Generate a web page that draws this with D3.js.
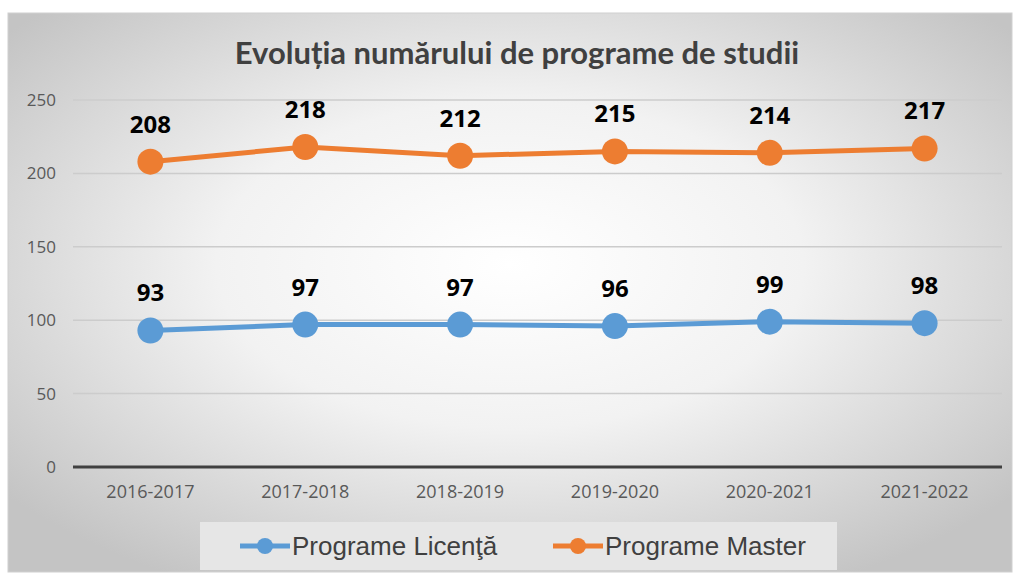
<!DOCTYPE html>
<html><head><meta charset="utf-8">
<script src="https://cdn.jsdelivr.net/npm/d3@7"></script>
<style>html,body{margin:0;padding:0;background:#fff;}svg{display:block;}</style>
</head><body>
<script>
const categories = ["2016-2017","2017-2018","2018-2019","2019-2020","2020-2021","2021-2022"];
const licenta = [93,97,97,96,99,98];
const master = [208,218,212,215,214,217];
const yTicks = [0,50,100,150,200,250];
const seriesNames = ["Programe Licenţă","Programe Master"];
const title = "Evoluția numărului de programe de studii";

const W=1016,H=574;
const svg=d3.select("body").append("svg").attr("width",W).attr("height",H);
const defs=svg.append("defs");
const rg=defs.append("radialGradient").attr("id","bg").attr("cx","50%").attr("cy","45%").attr("r","65%");
rg.append("stop").attr("offset","0%").attr("stop-color","#ffffff");
rg.append("stop").attr("offset","45%").attr("stop-color","#f2f2f2");
rg.append("stop").attr("offset","100%").attr("stop-color","#c4c4c4");
svg.append("rect").attr("x",8).attr("y",13).attr("width",1004).attr("height",559).attr("fill","url(#bg)").attr("stroke","#d0d0d0").attr("stroke-width",1);

const x=d3.scaleBand().domain(categories).range([73,1002]);
const y=d3.scaleLinear().domain([0,250]).range([467,100]);

svg.append("text").attr("x",517).attr("y",64).attr("text-anchor","middle")
  .attr("font-family","Lato, 'Open Sans', sans-serif").attr("font-weight","bold").attr("font-size",31)
  .attr("fill","#404040").text(title);

const grid=svg.append("g");
grid.selectAll("line").data(yTicks.filter(d=>d>0)).join("line")
  .attr("x1",73).attr("x2",1002).attr("y1",d=>y(d)).attr("y2",d=>y(d))
  .attr("stroke","#cccccc").attr("stroke-width",1.5);
svg.append("line").attr("x1",73).attr("x2",1002).attr("y1",y(0)).attr("y2",y(0)).attr("stroke","#404040").attr("stroke-width",3);

const yAxis=svg.append("g").attr("transform","translate(56,0)")
  .call(d3.axisLeft(y).tickValues(yTicks).tickSize(0).tickPadding(0));
yAxis.select(".domain").remove();
yAxis.selectAll("text").attr("font-family","'Open Sans', sans-serif").attr("font-size",17).attr("fill","#595959");

const xAxis=svg.append("g").attr("transform",`translate(0,${y(0)})`)
  .call(d3.axisBottom(x).tickSize(0).tickPadding(18));
xAxis.select(".domain").remove();
xAxis.selectAll("text").attr("font-family","'Open Sans', sans-serif").attr("font-size",18).attr("fill","#595959");

const cx=d=>x(d)+x.bandwidth()/2;
const line=d3.line().x((d,i)=>cx(categories[i])).y(d=>y(d));
const series=[{name:seriesNames[0],vals:licenta,color:"#5B9BD5"},{name:seriesNames[1],vals:master,color:"#ED7D31"}];
series.forEach(s=>{
  svg.append("path").datum(s.vals).attr("d",line).attr("fill","none").attr("stroke",s.color).attr("stroke-width",5).attr("stroke-linejoin","round");
  svg.append("g").selectAll("circle").data(s.vals).join("circle")
    .attr("cx",(d,i)=>cx(categories[i])).attr("cy",d=>y(d)).attr("r",13).attr("fill",s.color);
  svg.append("g").selectAll("text").data(s.vals).join("text")
    .attr("x",(d,i)=>cx(categories[i])).attr("y",d=>y(d)-29).attr("text-anchor","middle")
    .attr("font-family","'Open Sans', sans-serif").attr("font-weight","bold").attr("font-size",24).attr("fill","#000")
    .text(d=>d);
});

// legend
svg.append("rect").attr("x",200).attr("y",522).attr("width",637).attr("height",48).attr("fill","#e6e6e6");
const lg=[{x:240,tx:292},{x:553,tx:605}];
series.forEach((s,i)=>{
  const g=svg.append("g");
  g.append("line").attr("x1",lg[i].x).attr("x2",lg[i].x+50).attr("y1",546).attr("y2",546).attr("stroke",s.color).attr("stroke-width",5);
  g.append("circle").attr("cx",lg[i].x+25).attr("cy",546).attr("r",8).attr("fill",s.color);
  g.append("text").attr("x",lg[i].tx).attr("y",555).attr("font-family","'Liberation Sans', Arial, sans-serif").attr("font-size",26).attr("fill","#404040").text(s.name);
});
</script>
</body></html>
